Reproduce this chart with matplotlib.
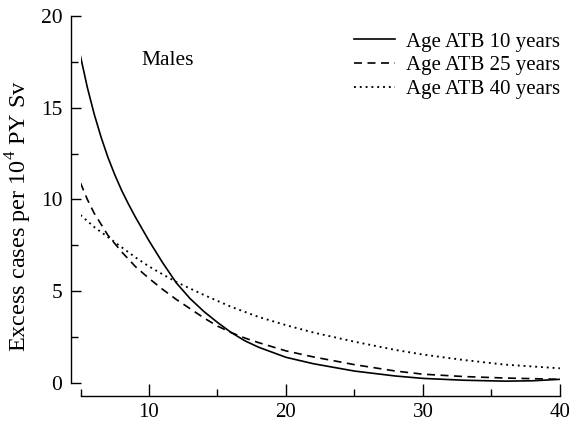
import matplotlib
matplotlib.use("Agg")
import matplotlib.pyplot as plt
from matplotlib.ticker import MultipleLocator, FixedLocator

plt.rcParams['font.family'] = ['Liberation Serif', 'DejaVu Serif']
plt.rcParams['mathtext.fontset'] = 'custom'
plt.rcParams['mathtext.rm'] = 'Liberation Serif'

# Data
x_age10 = [5, 5.5, 6, 6.5, 7, 7.5, 8, 8.5, 9, 9.5, 10, 11, 12, 13, 14, 15, 16, 17, 18, 20, 22, 25, 28, 30, 33, 36, 38, 40]
y_age10 = [17.8, 16.1, 14.65, 13.4, 12.3, 11.35, 10.5, 9.75, 9.05, 8.4, 7.75, 6.55, 5.45, 4.6, 3.9, 3.3, 2.75, 2.3, 1.95, 1.4, 1.05, 0.65, 0.38, 0.25, 0.15, 0.1, 0.12, 0.2]

x_age25 = [5, 5.5, 6, 7, 8, 9, 10, 11, 12, 13, 14, 15, 16, 17, 18, 20, 22, 25, 28, 30, 33, 36, 40]
y_age25 = [10.9, 10.0, 9.25, 8.05, 7.15, 6.35, 5.7, 5.1, 4.55, 4.05, 3.55, 3.1, 2.75, 2.45, 2.2, 1.75, 1.42, 1.0, 0.65, 0.48, 0.35, 0.27, 0.2]

x_age40 = [5, 6, 7, 8, 9, 10, 11, 12, 14, 16, 18, 20, 22, 25, 28, 30, 33, 36, 40]
y_age40 = [9.15, 8.5, 7.95, 7.4, 6.85, 6.35, 5.92, 5.5, 4.8, 4.15, 3.6, 3.15, 2.75, 2.25, 1.8, 1.55, 1.25, 1.0, 0.8]

labels = ["Age ATB 10 years", "Age ATB 25 years", "Age ATB 40 years"]
x_major = [10, 20, 30, 40]
x_minor = [5, 15, 25, 35]
y_major = [0, 5, 10, 15, 20]

fig = plt.figure(figsize=(5.69, 4.23), dpi=100)
ax = fig.add_axes([0.1415, 0.0946, 0.8425, 0.8676])

lw = 1.2
ax.plot(x_age10, y_age10, color='black', lw=lw, linestyle='-', label=labels[0])
ax.plot(x_age25, y_age25, color='black', lw=lw, linestyle=(0, (4.8, 3.3)), label=labels[1])
ax.plot(x_age40, y_age40, color='black', lw=1.35, linestyle=(0, (1, 2.1)), label=labels[2])

ax.set_xlim(5, 40)
ax.set_ylim(0, 20)

for s in ['top', 'right']:
    ax.spines[s].set_visible(False)
ax.spines['left'].set_position(('outward', 7.2))
ax.spines['bottom'].set_position(('outward', 9.4))
ax.spines['left'].set_bounds(0, 20)
ax.spines['bottom'].set_bounds(5, 40)
for s in ['left', 'bottom']:
    ax.spines[s].set_linewidth(1.0)

ax.xaxis.set_major_locator(FixedLocator(x_major))
ax.xaxis.set_minor_locator(FixedLocator(x_minor))
ax.yaxis.set_major_locator(FixedLocator(y_major))
ax.yaxis.set_minor_locator(MultipleLocator(2.5))

ax.tick_params(axis='x', which='major', direction='in', length=9, width=1.0, pad=5, labelsize=15)
ax.tick_params(axis='x', which='minor', direction='in', length=5, width=1.0)
ax.tick_params(axis='y', which='major', direction='in', length=7, width=1.0, pad=6, labelsize=15.5)
ax.tick_params(axis='y', which='minor', direction='in', length=5, width=1.0)

ax.set_ylabel(r"Excess cases per 10$^4$ PY Sv", fontsize=17.5)
ax.yaxis.set_label_coords(-0.097, 0.455)

ax.text(11.4, 17.6, "Males", fontsize=15.5, ha='center', va='center')

leg = ax.legend(loc='upper right', bbox_to_anchor=(1.026, 0.99), frameon=False, fontsize=15,
                handlelength=2.0, handletextpad=0.5, labelspacing=0.2, borderaxespad=0.2)

fig.savefig("out.png", dpi=100)
